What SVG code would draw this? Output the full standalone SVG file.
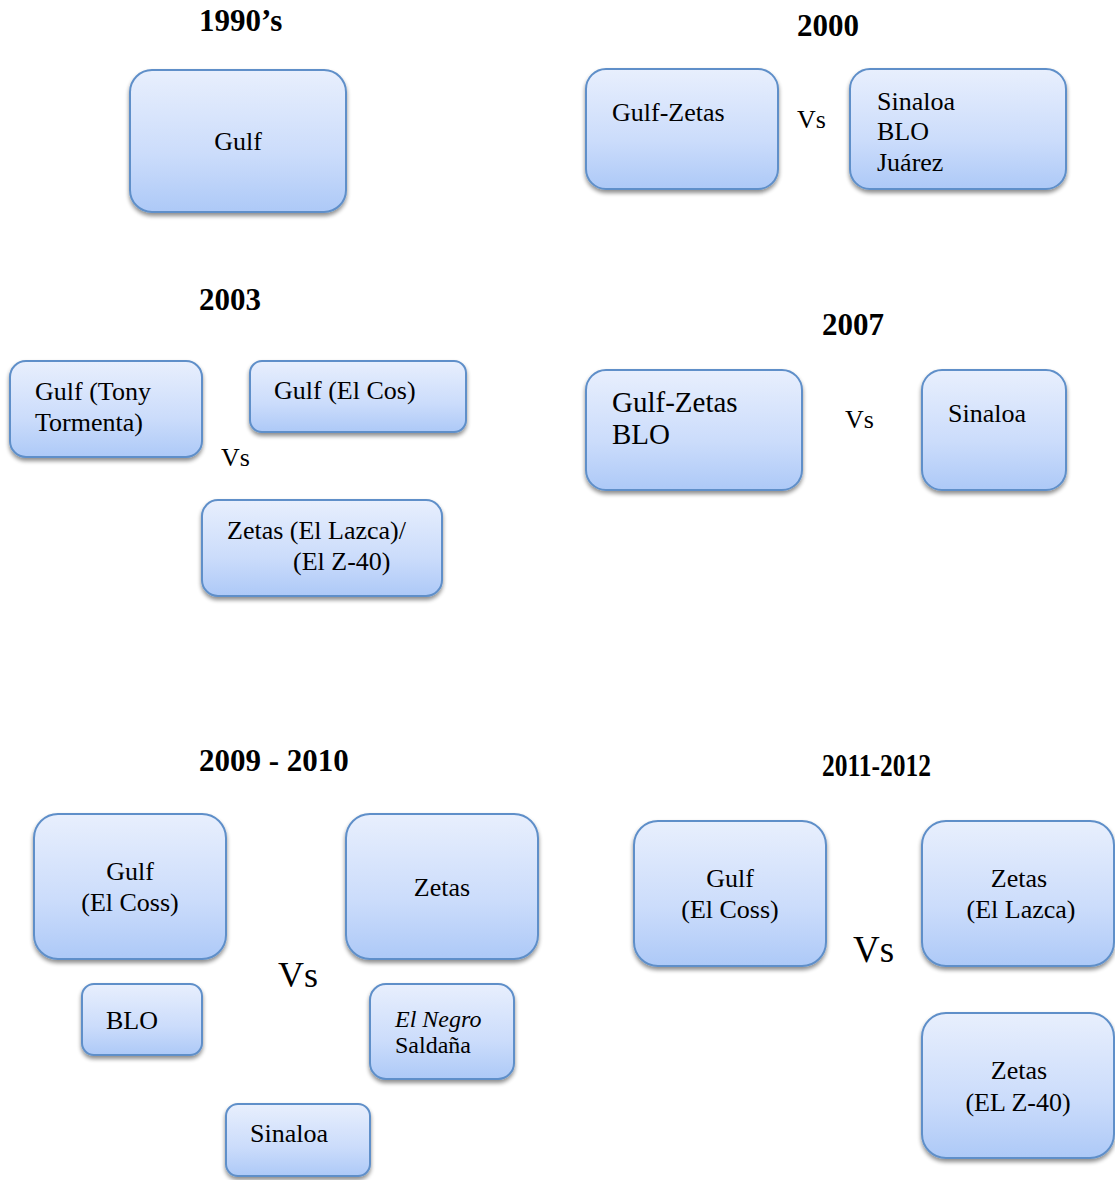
<svg xmlns="http://www.w3.org/2000/svg" width="1115" height="1180" viewBox="0 0 1115 1180">
<defs>
<linearGradient id="g" x1="0" y1="0" x2="0" y2="1">
<stop offset="0" stop-color="#e8effd"/>
<stop offset="0.6" stop-color="#cbdcfb"/>
<stop offset="1" stop-color="#adc9f7"/>
</linearGradient>
<filter id="sh" x="-10%" y="-10%" width="120%" height="130%">
<feGaussianBlur in="SourceAlpha" stdDeviation="2"/>
<feOffset dx="0" dy="3" result="b"/>
<feComponentTransfer><feFuncA type="linear" slope="0.45"/></feComponentTransfer>
<feMerge><feMergeNode/><feMergeNode in="SourceGraphic"/></feMerge>
</filter>
</defs>
<style>
.box{fill:url(#g);stroke:#5f8fc9;stroke-width:2;filter:url(#sh)}
text{font-family:"Liberation Serif","Times New Roman",serif;fill:#000}
.t{font-size:26px}
.h{font-size:31px;font-weight:bold}
.c{text-anchor:middle}
</style>
<g id="headers">
<text class="h" x="199" y="31">1990’s</text>
<text class="h" x="797" y="36">2000</text>
<text class="h" x="199" y="310">2003</text>
<text class="h" x="822" y="335">2007</text>
<text class="h" x="199" y="771">2009 - 2010</text>
<text class="h" x="822" y="776" textLength="109" lengthAdjust="spacingAndGlyphs">2011-2012</text>
</g>
<g id="n1990-gulf"><rect class="box" x="130" y="70" width="216" height="142" rx="22"/><text class="t c" x="238" y="150">Gulf</text></g>
<g id="n2000-gulfzetas"><rect class="box" x="586" y="69" width="192" height="120" rx="20"/><text class="t" x="612" y="121">Gulf-Zetas</text></g>
<g id="n2000-vs"><text class="t" x="797" y="128">Vs</text></g>
<g id="n2000-sinaloa"><rect class="box" x="850" y="69" width="216" height="120" rx="20"/><text class="t" x="877" y="110">Sinaloa</text><text class="t" x="877" y="140">BLO</text><text class="t" x="877" y="171">Juárez</text></g>
<g id="n2003-tony"><rect class="box" x="10" y="361" width="192" height="96" rx="16"/><text class="t" x="35" y="400">Gulf (Tony</text><text class="t" x="35" y="431">Tormenta)</text></g>
<g id="n2003-elcos"><rect class="box" x="250" y="361" width="216" height="71" rx="12"/><text class="t" x="274" y="399">Gulf (El Cos)</text></g>
<g id="n2003-vs"><text class="t" x="221" y="466">Vs</text></g>
<g id="n2003-zetas"><rect class="box" x="202" y="500" width="240" height="96" rx="16"/><text class="t" x="227" y="539">Zetas (El Lazca)/</text><text class="t" x="293" y="570">(El Z-40)</text></g>
<g id="n2007-gulfzetas"><rect class="box" x="586" y="370" width="216" height="120" rx="20"/><text class="t" x="612" y="412" style="font-size:29px">Gulf-Zetas</text><text class="t" x="612" y="444" style="font-size:29px">BLO</text></g>
<g id="n2007-vs"><text class="t" x="845" y="428">Vs</text></g>
<g id="n2007-sinaloa"><rect class="box" x="922" y="370" width="144" height="120" rx="20"/><text class="t" x="948" y="422">Sinaloa</text></g>
<g id="n2009-gulf"><rect class="box" x="34" y="814" width="192" height="145" rx="24"/><text class="t c" x="130" y="880">Gulf</text><text class="t c" x="130" y="911">(El Coss)</text></g>
<g id="n2009-zetas"><rect class="box" x="346" y="814" width="192" height="145" rx="24"/><text class="t c" x="442" y="896">Zetas</text></g>
<g id="n2009-vs"><text x="278" y="987" style="font-size:36px">Vs</text></g>
<g id="n2009-blo"><rect class="box" x="82" y="984" width="120" height="71" rx="12"/><text class="t" x="106" y="1029">BLO</text></g>
<g id="n2009-negro"><rect class="box" x="370" y="984" width="144" height="95" rx="16"/><text x="395" y="1027" style="font-size:24px;font-style:italic">El Negro</text><text x="395" y="1053" style="font-size:24px">Saldaña</text></g>
<g id="n2009-sinaloa"><rect class="box" x="226" y="1104" width="144" height="72" rx="12"/><text class="t" x="250" y="1142">Sinaloa</text></g>
<g id="n2011-gulf"><rect class="box" x="634" y="821" width="192" height="145" rx="24"/><text class="t c" x="730" y="887">Gulf</text><text class="t c" x="730" y="918">(El Coss)</text></g>
<g id="n2011-vs"><text x="853" y="962" style="font-size:37px">Vs</text></g>
<g id="n2011-lazca"><rect class="box" x="922" y="821" width="192" height="145" rx="24"/><text class="t c" x="1019" y="887">Zetas</text><text class="t c" x="1021" y="918">(El Lazca)</text></g>
<g id="n2011-z40"><rect class="box" x="922" y="1013" width="192" height="145" rx="24"/><text class="t c" x="1019" y="1079">Zetas</text><text class="t c" x="1018" y="1111">(EL Z-40)</text></g>
<g id="connectors"></g>
</svg>
